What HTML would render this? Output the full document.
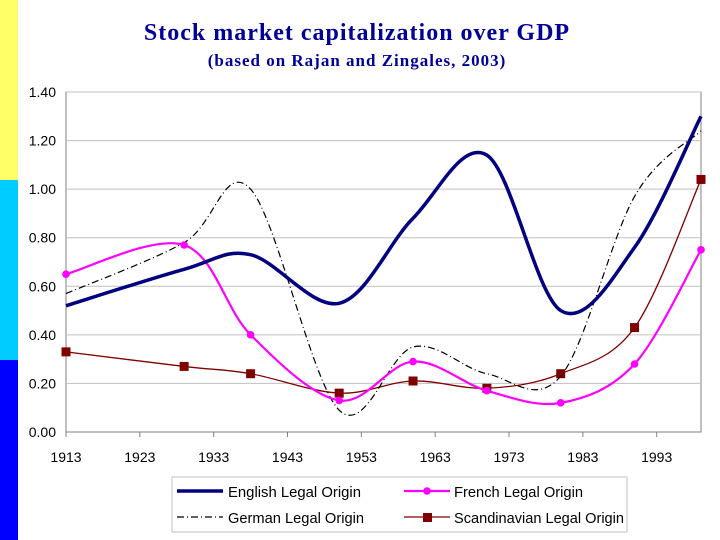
<!DOCTYPE html>
<html><head><meta charset="utf-8"><style>
body{margin:0;width:720px;height:540px;background:#fff;overflow:hidden;position:relative;font-family:"Liberation Sans",sans-serif}
.bar{position:absolute;left:0;width:18px}
</style></head><body>
<div class="bar" style="top:0;height:180px;background:#ffff66"></div>
<div class="bar" style="top:180px;height:180px;background:#00ccff"></div>
<div class="bar" style="top:360px;height:180px;background:#0000ff"></div>
<svg id="c" width="720" height="540" style="position:absolute;left:0;top:0">
<text x="357" y="40" text-anchor="middle" font-family="Liberation Serif,serif" font-weight="bold" font-size="24" letter-spacing="1" fill="#000099">Stock market capitalization over GDP</text>
<text x="357" y="66" text-anchor="middle" font-family="Liberation Serif,serif" font-weight="bold" font-size="17" letter-spacing="1" fill="#000099">(based on Rajan and Zingales, 2003)</text>
</svg>
<script>
const years=[1913,1929,1938,1950,1960,1970,1980,1990,1999];
const english=[0.52,0.67,0.73,0.53,0.88,1.14,0.50,0.76,1.30];
const french=[0.65,0.77,0.40,0.13,0.29,0.17,0.12,0.28,0.75];
const german=[0.57,0.78,1.00,0.09,0.35,0.24,0.23,0.97,1.24];
const scand=[0.33,0.27,0.24,0.16,0.21,0.18,0.24,0.43,1.04];
const yTicks=[0,0.2,0.4,0.6,0.8,1.0,1.2,1.4];
const xTicks=[1913,1923,1933,1943,1953,1963,1973,1983,1993];
const NS="http://www.w3.org/2000/svg",svg=document.getElementById('c');
const X=y=>66+(y-1913)*(590.7/80), Y=v=>432-v*(340/1.4);
function mk(t,a,p){const e=document.createElementNS(NS,t);for(const k in a)e.setAttribute(k,a[k]);(p||svg).appendChild(e);return e;}
const plot=mk('rect',{x:66,y:92,width:635,height:340,fill:'#fff',stroke:'#808080'});


yTicks.forEach(v=>{
 const g=mk('line',{x1:66,x2:701,y1:Y(v),y2:Y(v),stroke:v===0?'#808080':'#c0c0c0'});
 
 
 const t=mk('text',{x:56,y:Y(v)+5,'text-anchor':'end','font-size':14,fill:'#000'});
 t.textContent=v.toFixed(2);
 
 
});
xTicks.forEach(y=>{
 mk('line',{x1:X(y),x2:X(y),y1:432,y2:437,stroke:'#808080'});
 const t=mk('text',{x:X(y),y:462,'text-anchor':'middle','font-size':14,fill:'#000'});
 t.textContent=y;
 
 
});
function path(vals){
 const p=years.map((y,i)=>[X(y),Y(vals[i])]);let d='M'+p[0];
 for(let i=0;i<p.length-1;i++){const a=p[Math.max(i-1,0)],b=p[i],c=p[i+1],e=p[Math.min(i+2,p.length-1)],k=1/6;
  d+=' C'+(b[0]+(c[0]-a[0])*k)+','+(b[1]+(c[1]-a[1])*k)+' '+(c[0]-(e[0]-b[0])*k)+','+(c[1]-(e[1]-b[1])*k)+' '+c[0]+','+c[1];}
 return d;}
const s1=mk('path',{d:path(scand),fill:'none',stroke:'#800000','stroke-width':1.3});


scand.forEach((v,i)=>{const r=mk('rect',{x:X(years[i])-4.5,y:Y(v)-4.5,width:9,height:9,fill:'#800000'});
 
 });
const s2=mk('path',{d:path(german),fill:'none',stroke:'#000','stroke-width':1.2,'stroke-dasharray':'7,3,1,3'});


const s3=mk('path',{d:path(french),fill:'none',stroke:'#ff00ff','stroke-width':2.2});


french.forEach((v,i)=>{const c=mk('circle',{cx:X(years[i]),cy:Y(v),r:3.8,fill:'#ff00ff'});
 
 });
const s4=mk('path',{d:path(english),fill:'none',stroke:'#000080','stroke-width':3.5});


const lg=mk('g',{});


mk('rect',{x:172,y:477,width:455,height:55,fill:'#fff',stroke:'#c0c0c0'},lg);
mk('line',{x1:177,x2:223,y1:491,y2:491,stroke:'#000080','stroke-width':3.5},lg);
mk('line',{x1:177,x2:223,y1:517,y2:517,stroke:'#000','stroke-width':1.2,'stroke-dasharray':'7,3,1,3'},lg);
mk('line',{x1:404,x2:450,y1:491,y2:491,stroke:'#ff00ff','stroke-width':2.2},lg);
mk('circle',{cx:427,cy:491,r:3.8,fill:'#ff00ff'},lg);
mk('line',{x1:404,x2:450,y1:517,y2:517,stroke:'#800000','stroke-width':1.3},lg);
mk('rect',{x:423,y:513,width:9,height:9,fill:'#800000'},lg);
[['English Legal Origin',228,497,133],['German Legal Origin',228,523,136],['French Legal Origin',454,497,129],['Scandinavian Legal Origin',454,523,170]].forEach(a=>{
 const t=mk('text',{x:a[1],y:a[2],'font-size':15,fill:'#000',textLength:a[3],lengthAdjust:'spacingAndGlyphs'},lg);t.textContent=a[0];
 
 });
</script>
</body></html>
